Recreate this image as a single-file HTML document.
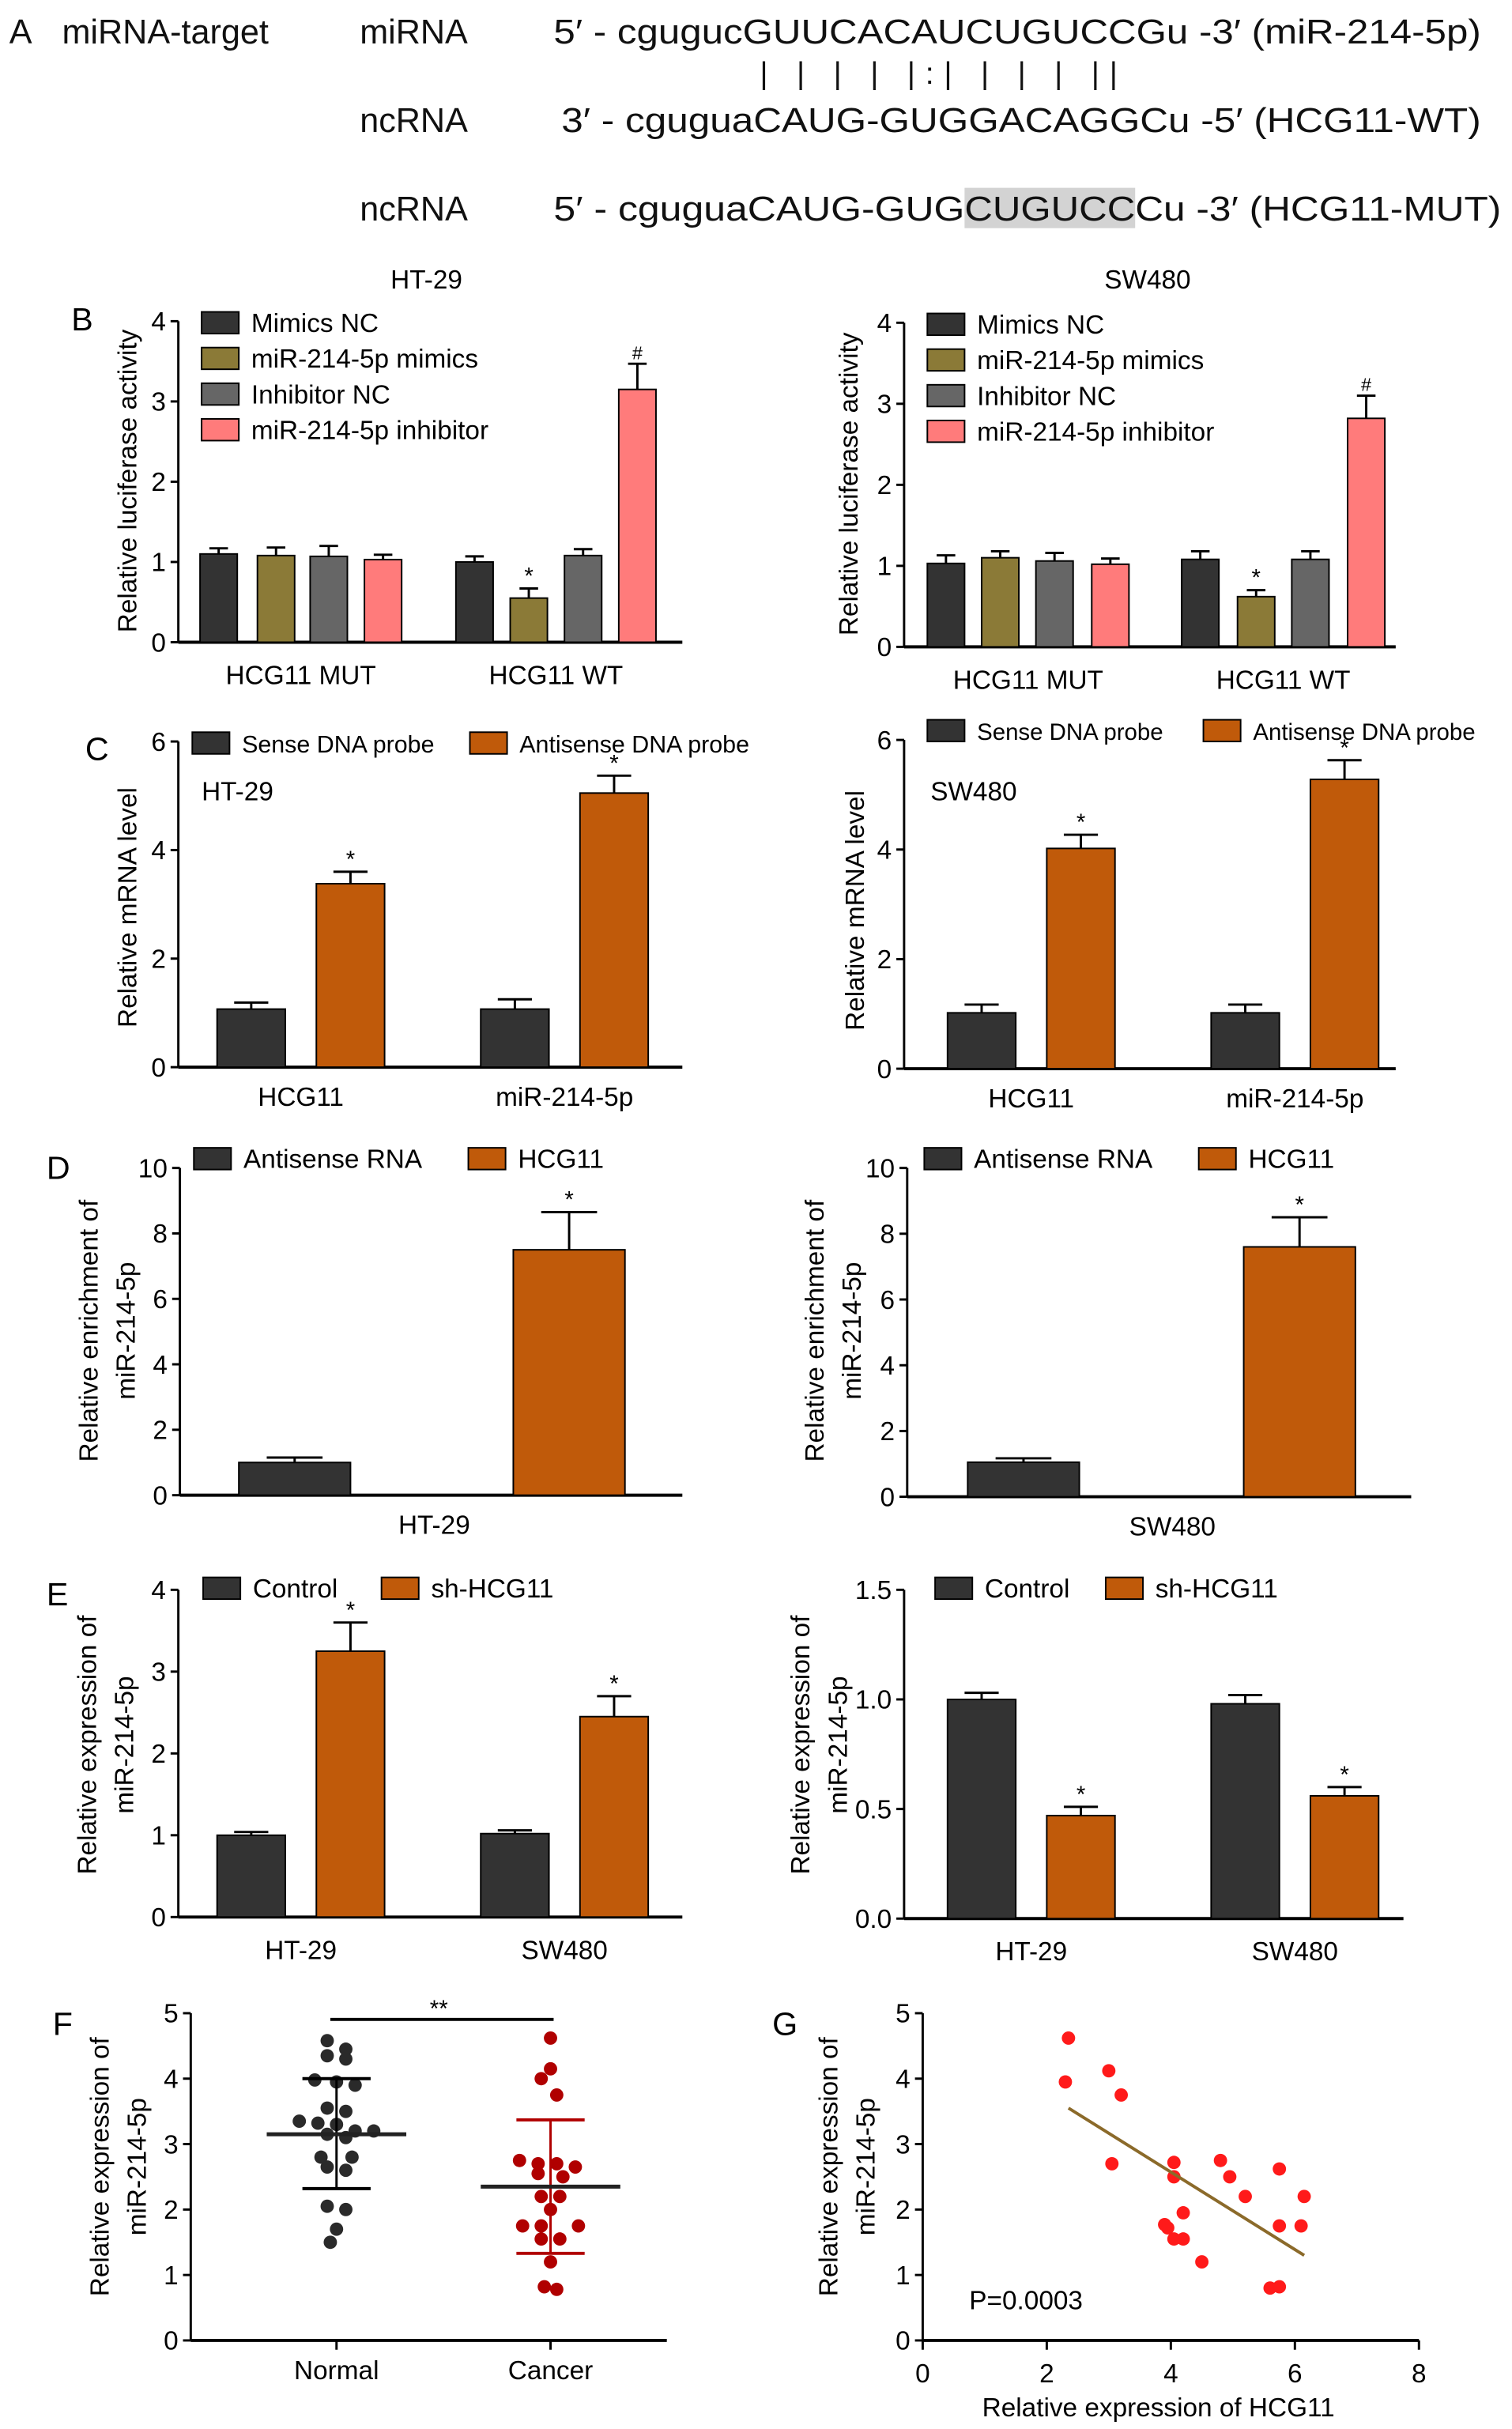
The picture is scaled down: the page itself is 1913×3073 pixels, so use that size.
<!DOCTYPE html>
<html><head><meta charset="utf-8">
<style>
html,body{margin:0;padding:0;background:#fff;}
svg{display:block;font-family:"Liberation Sans",Arial,sans-serif;}
</style></head>
<body>
<svg id="fig" width="1913" height="3073" viewBox="0 0 975 1566" xmlns="http://www.w3.org/2000/svg">
<g font-size="22" fill="#111">
<text x="6" y="28" font-size="22">A</text>
<text x="40" y="28">miRNA-target</text>
<text x="232" y="28">miRNA</text>
<text x="232" y="85">ncRNA</text>
<text x="232" y="142">ncRNA</text>
<rect x="622" y="121" width="110" height="26" fill="#d3d3d3"/>
<text x="357" y="28" textLength="598" lengthAdjust="spacingAndGlyphs">5′ - cgugucGUUCACAUCUGUCCGu -3′ (miR-214-5p)</text>
<text x="490" y="54" font-size="20" letter-spacing="6.5">| |  |  | |:| | | | ||</text>
<text x="362" y="85" textLength="593" lengthAdjust="spacingAndGlyphs">3′ - cguguaCAUG-GUGGACAGGCu -5′ (HCG11-WT)</text>
<text x="357" y="142" textLength="265" lengthAdjust="spacingAndGlyphs">5′ - cguguaCAUG-GUG</text>
<text x="622" y="142" textLength="110" lengthAdjust="spacingAndGlyphs">CUGUCC</text>
<text x="732" y="142" textLength="236" lengthAdjust="spacingAndGlyphs">Cu -3′ (HCG11-MUT)</text>
</g>
<g id="charts"></g>
</svg>
<script>
// ---------- data ----------
const bLeftVals=[1.1,1.08,1.07,1.03,1.0,0.55,1.08,3.15];
const bLeftErr=[0.07,0.1,0.13,0.06,0.07,0.12,0.08,0.32];
const bRightVals=[1.03,1.1,1.06,1.02,1.08,0.62,1.08,2.82];
const bRightErr=[0.1,0.08,0.1,0.07,0.1,0.08,0.1,0.28];
const bCategories=["HCG11 MUT","HCG11 WT"];
const bSeries=["Mimics NC","miR-214-5p mimics","Inhibitor NC","miR-214-5p inhibitor"];
const bTicks=[0,1,2,3,4];
const cLeftVals=[1.07,3.38,1.07,5.05];
const cLeftErr=[0.12,0.22,0.18,0.32];
const cRightVals=[1.02,4.02,1.02,5.28];
const cRightErr=[0.15,0.25,0.15,0.35];
const cCategories=["HCG11","miR-214-5p"];
const cTicks=[0,2,4,6];
const dLeftVals=[1.0,7.5];
const dLeftErr=[0.15,1.15];
const dRightVals=[1.05,7.6];
const dRightErr=[0.12,0.9];
const dTicks=[0,2,4,6,8,10];
const eLeftVals=[1.0,3.25,1.02,2.45];
const eLeftErr=[0.04,0.35,0.04,0.25];
const eRightVals=[1.0,0.47,0.98,0.56];
const eRightErr=[0.03,0.04,0.04,0.04];
const eCategories=["HT-29","SW480"];
const eLeftTicks=[0,1,2,3,4];
const eRightTicks=[0.0,0.5,1.0,1.5];
const fNormal=[4.58,4.45,4.35,4.3,3.98,3.95,3.9,3.55,3.5,3.35,3.32,3.3,3.2,3.2,3.15,3.1,2.8,2.8,2.65,2.6,2.05,2.0,1.7,1.5];
const fCancer=[4.62,4.15,4.0,3.75,2.75,2.7,2.7,2.65,2.55,2.5,2.2,2.2,2.0,1.75,1.75,1.75,1.55,1.55,1.2,0.82,0.78];
const fStats=[[3.15,2.32,4.0],[2.35,1.33,3.37]];
const fTicks=[0,1,2,3,4,5];
const gX=[2.35,2.3,3.0,3.2,3.05,4.05,4.05,4.2,3.9,3.95,4.05,4.2,4.5,4.8,4.95,5.2,5.75,5.75,6.1,6.15,5.6,5.75];
const gY=[4.62,3.95,4.12,3.75,2.7,2.72,2.5,1.95,1.77,1.72,1.55,1.55,1.2,2.75,2.5,2.2,2.62,1.75,1.75,2.2,0.8,0.82];
const gFit=[[2.35,3.55],[6.15,1.3]];
const gXTicks=[0,2,4,6,8];
const gYTicks=[0,1,2,3,4,5];

// ---------- helpers ----------
const NS="http://www.w3.org/2000/svg";
const root=document.getElementById('charts');
function mk(tag,attrs,parent,text){const e=document.createElementNS(NS,tag);for(const k in attrs)e.setAttribute(k,attrs[k]);if(text!==undefined)e.textContent=text;(parent||root).appendChild(e);return e;}
function group(name){const g=mk('g',{});


return g;}
function yScale(y0,y1,max){return v=>y0-(v/max)*(y0-y1);}
function axes(g,x0,x1,y0,ys,ticks,fmt){
  mk('line',{x1:x0,y1:y0,x2:x1,y2:y0,stroke:'#000','stroke-width':2},g);
  mk('line',{x1:x0,y1:y0,x2:x0,y2:ys(ticks[ticks.length-1]),stroke:'#000','stroke-width':1.5},g);
  ticks.forEach(t=>{const y=ys(t);mk('line',{x1:x0-5,y1:y,x2:x0,y2:y,stroke:'#000','stroke-width':1.5},g);
    const tl=mk('text',{x:x0-8,y:y+6,'text-anchor':'end','font-size':17},g,fmt?fmt(t):String(t));
    
    });
}
function bar(g,cx,w,v,err,ys,color,star){
  const y=ys(v),y0=ys(0);
  const r=mk('rect',{x:cx-w/2,y:y,width:w,height:y0-y,fill:color,stroke:'#000','stroke-width':1},g);
  
  
  const ye=ys(v+err);
  mk('line',{x1:cx,y1:y,x2:cx,y2:ye,stroke:'#000','stroke-width':1.5},g);
  mk('line',{x1:cx-w/4,y1:ye,x2:cx+w/4,y2:ye,stroke:'#000','stroke-width':1.5},g);
  if(star)mk('text',{x:cx,y:ye-3,'text-anchor':'middle','font-size':star==='#'?12:15},g,star);
}
function legendItem(g,x,y,color,label,fs){
  const r=mk('rect',{x:x,y:y-8,width:24,height:14,fill:color,stroke:'#000','stroke-width':1},g);
  
  
  mk('text',{x:x+32,y:y+5,'font-size':fs||17},g,label);
}
function ylab(g,x,cy,lines){lines.forEach((l,i)=>{mk('text',{x:x+i*24,y:cy,'text-anchor':'middle','font-size':17,transform:`rotate(-90 ${x+i*24} ${cy})`},g,l);});}
const COL4=['#333333','#8b7a37','#666666','#ff7b7b'];
const DARK='#333333',ORG='#c05a0a';

// ---------- Panel B ----------
function panelB(name,x0,x1,y0,y4,vals,errs,centers,title,tx,ly){
  const g=group(name);const ys=yScale(y0,y4,4);
  axes(g,x0,x1,y0,ys,bTicks);
  vals.forEach((v,i)=>bar(g,centers[i],24,v,errs[i],ys,COL4[i%4],i===5?'*':(i===7?'#':null)));
  bCategories.forEach((c,i)=>mk('text',{x:(centers[i*4]+centers[i*4+3])/2,y:y0+27,'text-anchor':'middle','font-size':17},g,c));
  mk('text',{x:tx,y:186,'text-anchor':'middle','font-size':17},g,title);
  bSeries.forEach((s,i)=>legendItem(g,x0+15,ly+i*23,COL4[i],s));
  return g;
}
const gb1=panelB('panel-b-ht29',115,440,414,207,bLeftVals,bLeftErr,[141,178,212,247,306,341,376,411],'HT-29',275,209);
mk('text',{x:46,y:213,'font-size':21},gb1,'B');
ylab(gb1,88,310,['Relative luciferase activity']);
const gb2=panelB('panel-b-sw480',583,900,417,208,bRightVals,bRightErr,[610,645,680,716,774,810,845,881],'SW480',740,210);
ylab(gb2,553,312,['Relative luciferase activity']);

// ---------- Panel C ----------
function panelC(name,x0,x1,y0,y6,vals,errs,centers,cell,cx,ly,lx1,lx2,fs){
  const g=group(name);const ys=yScale(y0,y6,6);
  axes(g,x0,x1,y0,ys,cTicks);
  vals.forEach((v,i)=>bar(g,centers[i],44,v,errs[i],ys,i%2?ORG:DARK,i%2?'*':null));
  cCategories.forEach((c,i)=>mk('text',{x:(centers[i*2]+centers[i*2+1])/2,y:y0+25,'text-anchor':'middle','font-size':17},g,c));
  mk('text',{x:cx,y:516,'font-size':17},g,cell);
  legendItem(g,lx1,ly,DARK,'Sense DNA probe',fs);
  legendItem(g,lx2,ly,ORG,'Antisense DNA probe',fs);
  return g;
}
const gc1=panelC('panel-c-ht29',115,440,688,478,cLeftVals,cLeftErr,[162,226,332,396],'HT-29',130,480,124,303,15.5);
mk('text',{x:55,y:490,'font-size':21},gc1,'C');
ylab(gc1,88,585,['Relative mRNA level']);
const gc2=panelC('panel-c-sw480',583,900,689,477,cRightVals,cRightErr,[633,697,803,867],'SW480',600,472,598,776,15);
ylab(gc2,557,587,['Relative mRNA level']);

// ---------- Panel D ----------
function panelD(name,x0,x1,y0,y10,vals,errs,centers,xl,xlx,lx1,lx2){
  const g=group(name);const ys=yScale(y0,y10,10);
  axes(g,x0,x1,y0,ys,dTicks);
  vals.forEach((v,i)=>bar(g,centers[i],72,v,errs[i],ys,i?ORG:DARK,i?'*':null));
  mk('text',{x:xlx,y:y0+25,'text-anchor':'middle','font-size':17},g,xl);
  legendItem(g,lx1,748,DARK,'Antisense RNA');
  legendItem(g,lx2,748,ORG,'HCG11');
  return g;
}
const gd1=panelD('panel-d-ht29',116,440,964,753,dLeftVals,dLeftErr,[190,367],'HT-29',280,125,302);
mk('text',{x:30,y:760,'font-size':21},gd1,'D');
ylab(gd1,63,858,['Relative enrichment of','miR-214-5p']);
const gd2=panelD('panel-d-sw480',585,910,965,753,dRightVals,dRightErr,[660,838],'SW480',756,596,773);
ylab(gd2,531,858,['Relative enrichment of','miR-214-5p']);

// ---------- Panel E ----------
function panelE(name,x0,x1,y0,ytop,max,ticks,fmt,vals,errs,centers,lx1,lx2){
  const g=group(name);const ys=yScale(y0,ytop,max);
  axes(g,x0,x1,y0,ys,ticks,fmt);
  vals.forEach((v,i)=>bar(g,centers[i],44,v,errs[i],ys,i%2?ORG:DARK,i%2?'*':null));
  eCategories.forEach((c,i)=>mk('text',{x:(centers[i*2]+centers[i*2+1])/2,y:y0+27,'text-anchor':'middle','font-size':17},g,c));
  legendItem(g,lx1,1025,DARK,'Control');
  legendItem(g,lx2,1025,ORG,'sh-HCG11');
  return g;
}
const ge1=panelE('panel-e-left',115,440,1236,1025,4,eLeftTicks,null,eLeftVals,eLeftErr,[162,226,332,396],131,246);
mk('text',{x:30,y:1035,'font-size':21},ge1,'E');
ylab(ge1,62,1125,['Relative expression of','miR-214-5p']);
const ge2=panelE('panel-e-right',583,905,1237,1025,1.5,eRightTicks,t=>t.toFixed(1),eRightVals,eRightErr,[633,697,803,867],603,713);
ylab(ge2,522,1125,['Relative expression of','miR-214-5p']);

// ---------- Panel F ----------
(function(){
  const g=group('panel-f-scatter');
  const ys=yScale(1509,1298,5);
  axes(g,123,430,1509,ys,fTicks);
  const xs=[217,355];
  ['Normal','Cancer'].forEach((c,i)=>{mk('line',{x1:xs[i],y1:1509,x2:xs[i],y2:1515,stroke:'#000','stroke-width':1.5},g);
    mk('text',{x:xs[i],y:1534,'text-anchor':'middle','font-size':17},g,c);});
  mk('text',{x:34,y:1312,'font-size':21},g,'F');
  ylab(g,70,1397,['Relative expression of','miR-214-5p']);
  mk('line',{x1:213,y1:1302,x2:357,y2:1302,stroke:'#000','stroke-width':2},g);
  mk('text',{x:283,y:1300,'text-anchor':'middle','font-size':15},g,'**');
  const jit=[-6,6,-6,6,-14,0,12,-6,6,-24,-12,0,12,24,-6,6,-10,10,-6,6,-6,6,0,-4];
  const jit2=[0,0,-6,4,-20,-8,4,16,-8,8,-6,6,0,-18,-6,18,-6,6,0,-4,4];
  fNormal.forEach((v,i)=>{const c=mk('circle',{cx:xs[0]+jit[i%jit.length],cy:ys(v),r:4.3,fill:'#2a2a2a'},g);
    
    });
  fCancer.forEach((v,i)=>{const c=mk('circle',{cx:xs[1]+jit2[i%jit2.length],cy:ys(v),r:4.3,fill:'#b00000'},g);
    
    });
  fStats.forEach((s,i)=>{const col=i?'#b00000':'#000';const x=xs[i];
    mk('line',{x1:x,y1:ys(s[1]),x2:x,y2:ys(s[2]),stroke:col,'stroke-width':1.5},g);
    mk('line',{x1:x-22,y1:ys(s[1]),x2:x+22,y2:ys(s[1]),stroke:col,'stroke-width':2},g);
    mk('line',{x1:x-22,y1:ys(s[2]),x2:x+22,y2:ys(s[2]),stroke:col,'stroke-width':2},g);
    mk('line',{x1:x-45,y1:ys(s[0]),x2:x+45,y2:ys(s[0]),stroke:'#222','stroke-width':2.5},g);});
})();

// ---------- Panel G ----------
(function(){
  const g=group('panel-g-correlation');
  const ys=yScale(1509,1298,5);
  const xsc=v=>595+v*40;
  axes(g,595,915,1509,ys,gYTicks);
  gXTicks.forEach(t=>{mk('line',{x1:xsc(t),y1:1509,x2:xsc(t),y2:1515,stroke:'#000','stroke-width':1.5},g);
    mk('text',{x:xsc(t),y:1536,'text-anchor':'middle','font-size':17},g,String(t));});
  mk('text',{x:498,y:1312,'font-size':21},g,'G');
  ylab(g,540,1397,['Relative expression of','miR-214-5p']);
  mk('text',{x:747,y:1558,'text-anchor':'middle','font-size':17},g,'Relative expression of HCG11');
  mk('text',{x:625,y:1489,'font-size':17},g,'P=0.0003');
  gX.forEach((v,i)=>{const c=mk('circle',{cx:xsc(v),cy:ys(gY[i]),r:4.3,fill:'#ff1a1a'},g);
    
    });
  const fl=mk('line',{x1:xsc(gFit[0][0]),y1:ys(gFit[0][1]),x2:xsc(gFit[1][0]),y2:ys(gFit[1][1]),stroke:'#8b6a2a','stroke-width':2},g);
  
  
})();
</script>
</body></html>
